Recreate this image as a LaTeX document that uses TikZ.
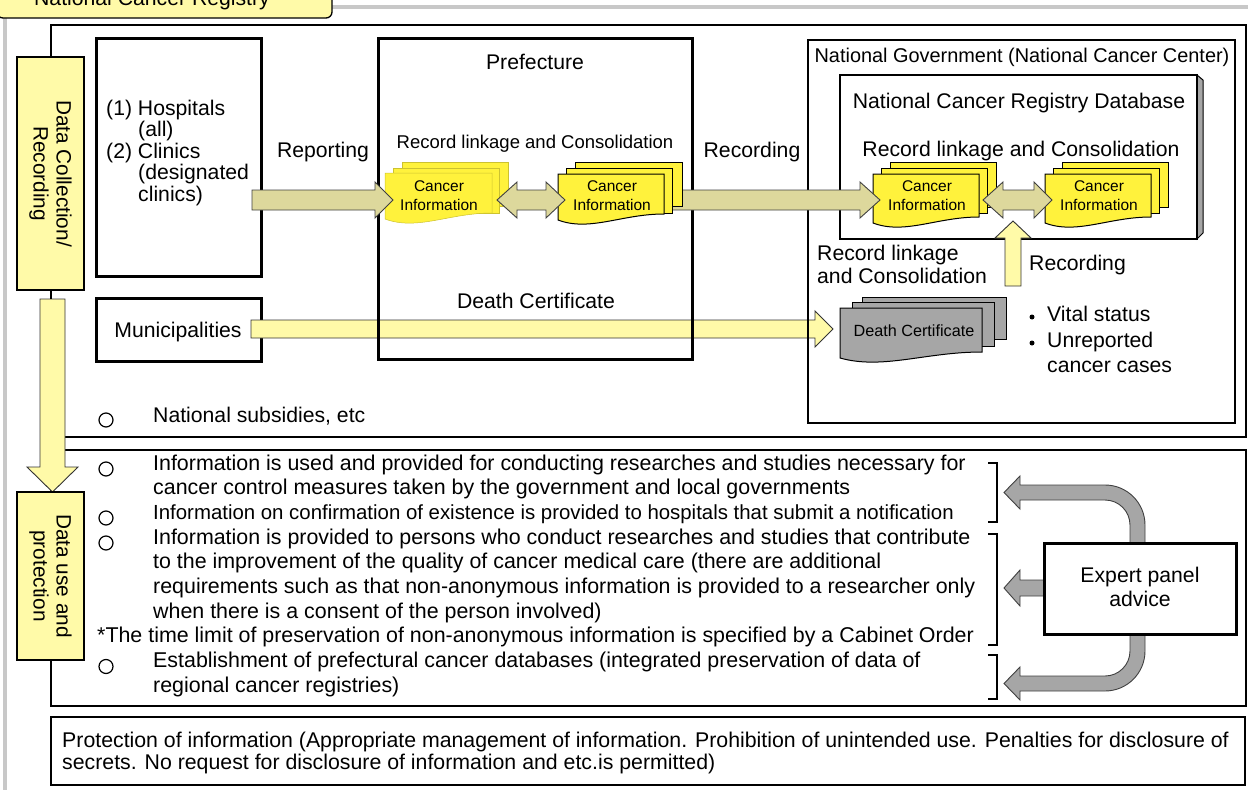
\documentclass[tikz,border=0pt]{standalone}
\usepackage{fontspec}
\setmainfont{Liberation Sans}
\definecolor{lyel}{HTML}{FFFAA8}
\definecolor{dyel}{HTML}{FFF23C}
\definecolor{khaki}{HTML}{DDD89C}
\definecolor{garr}{HTML}{A6A6A6}
\definecolor{framegray}{HTML}{C8C8C8}
\newcommand\DocFront[5]{%
  \path[#5] (#1,#2) -- ({#1+#3},#2) -- ({#1+#3},{#2+#4-6})
    .. controls ({#1+0.6*#3},{#2+#4-6}) and ({#1+0.3*#3},{#2+#4+12}) .. (#1,{#2+#4}) -- cycle;}
\newcommand\DocBack[5]{\path[#5] (#1,#2) rectangle ({#1+#3},{#2+#4});}
\begin{document}
\begin{tikzpicture}[x=1pt,y=-1pt,
  txt/.style={inner sep=0pt, font=\fontsize{21.2}{24}\selectfont},
  ltxt/.style={inner sep=0pt, font=\fontsize{21.4}{24.7}\selectfont},
  mtxt/.style={inner sep=0pt, font=\fontsize{18.5}{21}\selectfont},
  stxt/.style={inner sep=0pt, font=\fontsize{15.5}{18}\selectfont, align=center},
  bbox/.style={draw=black, line width=3pt},
  sbox/.style={draw=black, line width=2pt},
  lab/.style={draw=black, fill=lyel, line width=1.3pt, inner sep=0pt, align=center,
     font=\fontsize{20.8}{23}\selectfont},
  yarrow/.style={fill=lyel, draw=black!80, line width=0.9pt},
  karrow/.style={fill=khaki, draw=black!75, line width=0.9pt},
  garrow/.style={fill=garr, draw=black!75, line width=0.9pt},
  ydoc/.style={fill=dyel, draw=black, line width=1pt},
  ydocn/.style={fill=dyel, draw=dyel!80!black, line width=0.5pt},
  gdoc/.style={fill=garr, draw=black, line width=1pt},
  circ/.style={draw=black, line width=1.2pt},
  brk/.style={draw=black, line width=1.5pt}]
\useasboundingbox (0,0) rectangle (1248,790);
\clip (0,0) rectangle (1248,790);
% outer frame
\draw[framegray, line width=4pt] (5,18) -- (5,795);
\draw[framegray, line width=4pt] (330,7) -- (1252,7);
% title tab
\draw[fill=lyel, line width=1.3pt, rounded corners=6pt] (-3,-25) rectangle (332,18);
\node[txt, anchor=base] (title) at (152,5) {National Cancer Registry};
% section boxes
\draw[sbox] (51,25) rectangle (1246,437);
\draw[sbox] (51,450) rectangle (1246,706);
\draw[line width=2.5pt] (51,717) rectangle (1245,785);
% hospitals / municipalities
\draw[bbox] (96,38) rectangle (261,276);
\draw[bbox] (96,298) rectangle (261,361);
\node[txt, anchor=base west] (h1) at (106,115) {(1) Hospitals};
\node[txt, anchor=base west] (h2) at (138,136.5) {(all)};
\node[txt, anchor=base west] (h3) at (106,158) {(2) Clinics};
\node[txt, anchor=base west] (h4) at (138,179.5) {(designated};
\node[txt, anchor=base west] (h5) at (138,201) {clinics)};
\node[txt, anchor=base] (muni) at (178,337) {Municipalities};
% municipality -> death certificate arrow
\filldraw[yarrow] (251,320) -- (815,320) -- (815,311) -- (833,329) -- (815,347) -- (815,338) -- (251,338) -- cycle;
% prefecture box
\draw[bbox] (378,38) rectangle (692,359);
\node[txt, anchor=base] (pref) at (535,69) {Prefecture};
\node[mtxt, anchor=base] (prl) at (535,148) {Record linkage and Consolidation};
\node[txt, anchor=base] (dcl) at (536,308) {Death Certificate};
% national government
\draw[sbox] (808,40) rectangle (1235,423);
\node[inner sep=0pt, font=\fontsize{19.9}{23}\selectfont, anchor=base] (ng) at (1022,62) {National Government (National Cancer Center)};
\filldraw[fill=garr, draw=black, line width=1pt] (1197,75) -- (1203,80) -- (1203,233) -- (1197,239) -- cycle;
\draw[line width=1.3pt, fill=white] (840,75) rectangle (1197,239);
\node[txt, anchor=base] (db) at (1019,108) {National Cancer Registry Database};
\node[txt, anchor=base] (nrl) at (1021,156) {Record linkage and Consolidation};
% national docs
\DocBack{890}{162.5}{106}{44.5}{ydoc}
\DocBack{881.5}{168}{106}{45}{ydoc}
\DocFront{873}{174}{106}{49}{ydoc}
\node[stxt, anchor=base] (nd1a) at (927,191.5) {Cancer};
\node[stxt, anchor=base] (nd1b) at (927,210) {Information};
\DocBack{1062}{162.5}{106}{44.5}{ydoc}
\DocBack{1053.5}{168}{106}{45}{ydoc}
\DocFront{1045}{174}{106}{49}{ydoc}
\node[stxt, anchor=base] (nd2a) at (1099,191.5) {Cancer};
\node[stxt, anchor=base] (nd2b) at (1099,210) {Information};
% recording arrow pref -> national
\filldraw[karrow] (667,190) -- (860,190) -- (860,182) -- (880,200) -- (860,218) -- (860,210) -- (667,210) -- cycle;
\node[txt, anchor=base] (rec1) at (752,157) {Recording};
% prefecture docs
\DocBack{402}{162}{106}{44.5}{ydocn}
\DocBack{393.5}{168}{106}{45}{ydocn}
\DocFront{385}{173}{107}{46}{ydocn}
\node[stxt, anchor=base] (pd1a) at (439,191.5) {Cancer};
\node[stxt, anchor=base] (pd1b) at (439,210) {Information};
\DocBack{575}{162}{107}{44.5}{ydoc}
\DocBack{566.5}{168}{106}{45}{ydoc}
\DocFront{558}{174}{106}{46}{ydoc}
\node[stxt, anchor=base] (pd2a) at (612,191.5) {Cancer};
\node[stxt, anchor=base] (pd2b) at (612,210) {Information};
% reporting arrow
\filldraw[karrow] (252,190) -- (375,190) -- (375,182) -- (393,200) -- (375,218) -- (375,210) -- (252,210) -- cycle;
\node[txt, anchor=base] (rep) at (323,157) {Reporting};
% double arrows
\filldraw[karrow] (497,200) -- (517,182) -- (517,190) -- (546,190) -- (546,182) -- (565,200) -- (546,218) -- (546,210) -- (517,210) -- (517,218) -- cycle;
\filldraw[karrow] (983,200) -- (1003,182) -- (1003,190) -- (1034,190) -- (1034,182) -- (1052,200) -- (1034,218) -- (1034,210) -- (1003,210) -- (1003,218) -- cycle;
% upward recording arrow
\filldraw[yarrow] (1005,286) -- (1005,238) -- (995,238) -- (1013,221) -- (1031,238) -- (1021,238) -- (1021,286) -- cycle;
\node[txt, anchor=base west] (rec2) at (1029,270) {Recording};
\node[txt, anchor=base west] (rl1) at (817,260) {Record linkage};
\node[txt, anchor=base west] (rl2) at (817,283) {and Consolidation};
% death certificate docs
\DocBack{862}{297}{144}{42}{gdoc}
\DocBack{852}{302}{142}{44}{gdoc}
\DocFront{840}{308}{142}{50}{gdoc}
\node[inner sep=0pt, font=\fontsize{16.2}{18}\selectfont, anchor=base] (dc) at (914,336.5) {Death Certificate};
% bullets
\fill (1032,317) circle (2.5);
\fill (1032,343) circle (2.5);
\node[txt, anchor=base west] (b1) at (1047,321) {Vital status};
\node[txt, anchor=base west] (b2) at (1047,347) {Unreported};
\node[txt, anchor=base west] (b3) at (1047,372) {cancer cases};
% national subsidies
\draw[circ] (106,420) circle (7);
\node[txt, anchor=base west] (ns) at (153,422) {National subsidies, etc};
% big down arrow
\filldraw[yarrow] (40,299) -- (65,299) -- (65,467) -- (78,467) -- (52.5,492) -- (27,467) -- (40,467) -- cycle;
% labels
\draw[line width=1.3pt] (51,25) -- (51,60);
\draw[line width=1.3pt] (51,288) -- (51,299);
\draw[line width=2pt] (51,658) -- (51,706);
\node[lab, rotate=-90, minimum width=233pt, minimum height=67pt] (lab1) at (50.5,173.5) {Data Collection/\\Recording};
\node[lab, rotate=-90, minimum width=168pt, minimum height=67pt] (lab2) at (50.5,576) {Data use and\\protection};
% lower list
\draw[circ] (106,469) circle (7);
\node[ltxt, anchor=base west] (l1) at (153,470) {Information is used and provided for conducting researches and studies necessary for};
\node[ltxt, anchor=base west] (l2) at (153,494.7) {cancer control measures taken by the government and local governments};
\draw[circ] (106,518) circle (7);
\node[inner sep=0pt, font=\fontsize{20.4}{24.7}\selectfont, anchor=base west] (l3) at (153,519.4) {Information on confirmation of existence is provided to hospitals that submit a notification};
\draw[circ] (106,543) circle (7);
\node[ltxt, anchor=base west] (l4) at (153,544.1) {Information is provided to persons who conduct researches and studies that contribute};
\node[ltxt, anchor=base west] (l5) at (153,568.8) {to the improvement of the quality of cancer medical care (there are additional};
\node[ltxt, anchor=base west] (l6) at (153,593.5) {requirements such as that non-anonymous information is provided to a researcher only};
\node[ltxt, anchor=base west] (l7) at (153,618.2) {when there is a consent of the person involved)};
\node[ltxt, anchor=base west] (l8) at (97,642.9) {*The time limit of preservation of non-anonymous information is specified by a Cabinet Order};
\draw[circ] (106,666.5) circle (7);
\node[ltxt, anchor=base west] (l9) at (153,667.6) {Establishment of prefectural cancer databases (integrated preservation of data of};
\node[ltxt, anchor=base west] (l10) at (153,692.3) {regional cancer registries)};
% brackets
\draw[brk] (988,463) -- (997,463) -- (997,522) -- (988,522);
\draw[brk] (988,534) -- (997,534) -- (997,645) -- (988,645);
\draw[brk] (988,655) -- (997,655) -- (997,699) -- (988,699);
% expert panel arrows
\filldraw[garrow] (1130,545) -- (1130,525) .. controls (1130,511.2) and (1118.8,500) .. (1105,500) -- (1020,500) -- (1020,509) -- (1004,492.5) -- (1020,476) -- (1020,485) -- (1105,485) .. controls (1127.1,485) and (1145,502.9) .. (1145,525) -- (1145,545) -- cycle;
\filldraw[garrow] (1046,580) -- (1020,580) -- (1020,570) -- (1004,588) -- (1020,606) -- (1020,596) -- (1046,596) -- cycle;
\filldraw[garrow] (1130,632) -- (1130,651) .. controls (1130,664.8) and (1118.8,676) .. (1105,676) -- (1020,676) -- (1020,667) -- (1004,683.5) -- (1020,700) -- (1020,691) -- (1105,691) .. controls (1127.1,691) and (1145,673.1) .. (1145,651) -- (1145,632) -- cycle;
\node[draw=black, fill=white, line width=3pt, minimum width=192pt, minimum height=91pt, inner sep=0pt] (exp) at (1140,588.5) {};
\node[txt, anchor=base] (e1) at (1140,582) {Expert panel};
\node[txt, anchor=base] (e2) at (1140,606.5) {advice};
% bottom text
\node[inner sep=0pt, font=\fontsize{21.3}{22}\selectfont, anchor=base west] (p1) at (62,747) {Protection of information (Appropriate management of information. Prohibition of unintended use. Penalties for disclosure of};
\node[inner sep=0pt, font=\fontsize{21.3}{22}\selectfont, anchor=base west] (p2) at (62,769) {secrets. No request for disclosure of information and etc.is permitted)};
\end{tikzpicture}
\end{document}
